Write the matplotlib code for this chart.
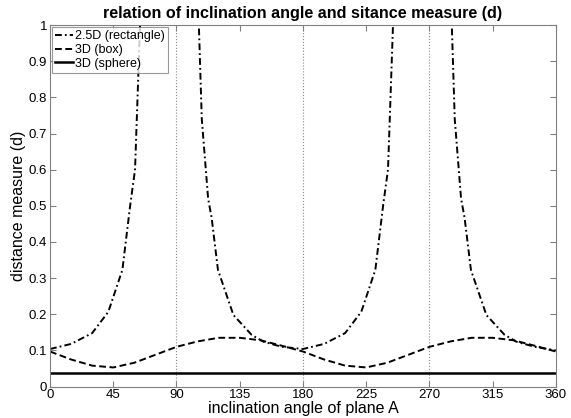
import matplotlib
matplotlib.use("Agg")
import matplotlib.pyplot as plt

plt.rcParams["font.family"] = ["Liberation Sans", "DejaVu Sans"]

# 2.5D (rectangle): sampled angles and distance; values above 1 leave the plot
rect_angle = [0, 15, 30, 41.5, 51.5, 57, 60.5, 63, 64.5, 85,
              105.5, 108, 112.5, 115, 119.5, 130.5, 143.5, 152, 165, 180,
              195, 210, 221.5, 231.5, 237, 240.5, 243, 244.5, 265,
              285.5, 288, 292.5, 295, 299.5, 310.5, 323.5, 332, 345, 360]
rect_dist = [0.104, 0.118, 0.148, 0.207, 0.323, 0.50, 0.60, 0.88, 1.05, 20.0,
             1.05, 0.74, 0.52, 0.467, 0.323, 0.198, 0.143, 0.124, 0.110, 0.104,
             0.118, 0.148, 0.207, 0.323, 0.50, 0.60, 0.88, 1.05, 20.0,
             1.05, 0.74, 0.52, 0.467, 0.323, 0.198, 0.143, 0.124, 0.110, 0.100]

# 3D (box)
box_angle = [0, 15, 30, 45, 60, 75, 90, 105, 120, 135, 150, 165, 180,
             195, 210, 225, 240, 255, 270, 285, 300, 315, 330, 345, 360]
box_dist = [0.097, 0.075, 0.058, 0.053, 0.066, 0.088, 0.110, 0.125, 0.135, 0.135, 0.128, 0.113, 0.097,
            0.075, 0.058, 0.053, 0.066, 0.088, 0.110, 0.125, 0.135, 0.135, 0.128, 0.113, 0.097]

# 3D (sphere)
sphere_angle = [0, 360]
sphere_dist = [0.038, 0.038]

guide_angles = [90, 180, 270]

fig = plt.figure(figsize=(5.71, 4.18), dpi=100)
ax = fig.add_axes([0.0876, 0.0751, 0.886, 0.865])

for g in guide_angles:
    ax.axvline(g, color="#888888", linestyle=":", linewidth=0.8, zorder=1)

ax.plot(rect_angle, rect_dist, color="black", linewidth=1.4,
        dashes=[3.5, 1.6, 0.9, 1.6], label="2.5D (rectangle)")
ax.plot(box_angle, box_dist, color="black", linewidth=1.4,
        dashes=[3.5, 1.8], label="3D (box)")
ax.plot(sphere_angle, sphere_dist, color="black", linewidth=1.8,
        label="3D (sphere)")

ax.set_xlim(0, 360)
ax.set_ylim(0, 1)
ax.set_xticks(range(0, 361, 45))
ax.set_yticks([i / 10 for i in range(11)])
ax.set_yticklabels(["0"] + [f"{i/10:g}" for i in range(1, 10)] + ["1"])
ax.tick_params(direction="in", length=4, width=0.8, color="#808080",
               labelsize=9.5, top=True, right=True, pad=2)
for s in ax.spines.values():
    s.set_color("#808080")
    s.set_linewidth(0.8)

ax.set_title("relation of inclination angle and sitance measure (d)",
             fontsize=11.6, fontweight="bold", pad=5)
ax.set_xlabel("inclination angle of plane A", fontsize=11.5, labelpad=0)
ax.set_ylabel("distance measure (d)", fontsize=11.5, labelpad=2)

leg = ax.legend(loc="upper left", fontsize=9, frameon=True, fancybox=False,
                borderpad=0.25, labelspacing=0.15, handlelength=1.4,
                handletextpad=0.2, borderaxespad=0.15)
leg.get_frame().set_edgecolor("#808080")
leg.get_frame().set_linewidth(0.8)

fig.savefig("out.png", dpi=100)
